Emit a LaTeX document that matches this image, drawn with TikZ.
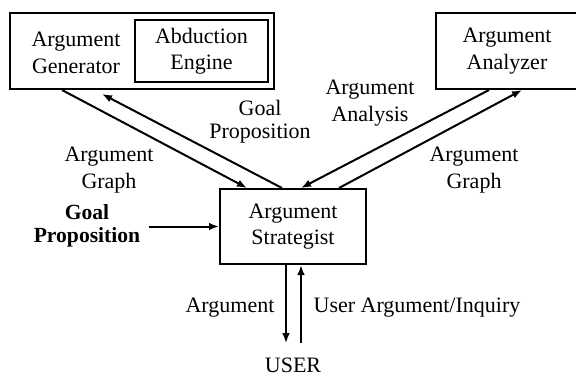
\documentclass[tikz,border=0pt]{standalone}
\usepackage{fontspec}
\setmainfont{Liberation Serif}
\usetikzlibrary{arrows.meta}

\begin{document}
\begin{tikzpicture}[x = 0.5pt, y = -0.5pt,
    every node/.style = {font = \fontsize{11pt}{13.2pt}\selectfont, inner sep = 0pt, align = center},
    box/.style = {draw = black, line width = 1pt},
    flow/.style = {line width = 1pt, -{Latex[length = 5pt, width = 3.8pt]}}]
 \useasboundingbox (0,0) rectangle (576,375);

 % modules
 \node[box, minimum width = 132pt, minimum height = 38pt] (gen) at (142,51) {};
 \node (gentext) at (76,53) {Argument\\ Generator};
 \node[box, minimum width = 66.5pt, minimum height = 31pt] (abd) at (201.5,51) {Abduction\\ Engine};
 \node[box, minimum width = 71pt, minimum height = 38pt] (ana) at (507,51) {Argument\\ Analyzer};
 \node[box, minimum width = 73pt, minimum height = 37.5pt] (strat) at (293,226.5) {Argument\\ Strategist};
 \node[font = \fontsize{10.8pt}{11.5pt}\selectfont\bfseries, inner xsep = 4pt] (goal) at (87,226) {Goal\\ Proposition};
 \node[inner ysep = 7pt] (user) at (293,365) {USER};

 % data flow
 \draw[flow] ([xshift = 26.5pt]gen.south west) -- ([xshift = 14pt]strat.north west);
 \draw[flow] ([xshift = 31.5pt]strat.north west) -- ([xshift = 46.5pt, yshift = -2pt]gen.south west);
 \draw[flow] ([xshift = 27pt]ana.south west) -- ([xshift = 41pt]strat.north west);
 \draw[flow] ([xshift = 60pt]strat.north west) -- ([xshift = 43.5pt]ana.south west);
 \draw[flow] (goal.east |- strat.west) -- (strat.west);
 \draw[flow] ([xshift = -3.5pt]strat.south) -- ([xshift = -3.5pt]user.north);
 \draw[flow] ([xshift = 4pt]user.north) -- ([xshift = 4pt]strat.south);

 % labels
 \node (graphl) at (109,170) {Argument\\ Graph};
 \node[font = \fontsize{11pt}{11.5pt}\selectfont] (goalp) at (260,122) {Goal\\ Proposition};
 \node (analysis) at (370,103) {Argument\\ Analysis};
 \node (graphr) at (474,170) {Argument\\ Graph};
 \node (argout) at (230,308) {Argument};
 \node (argin) at (417,308) {User Argument/Inquiry};
\end{tikzpicture}
\end{document}
